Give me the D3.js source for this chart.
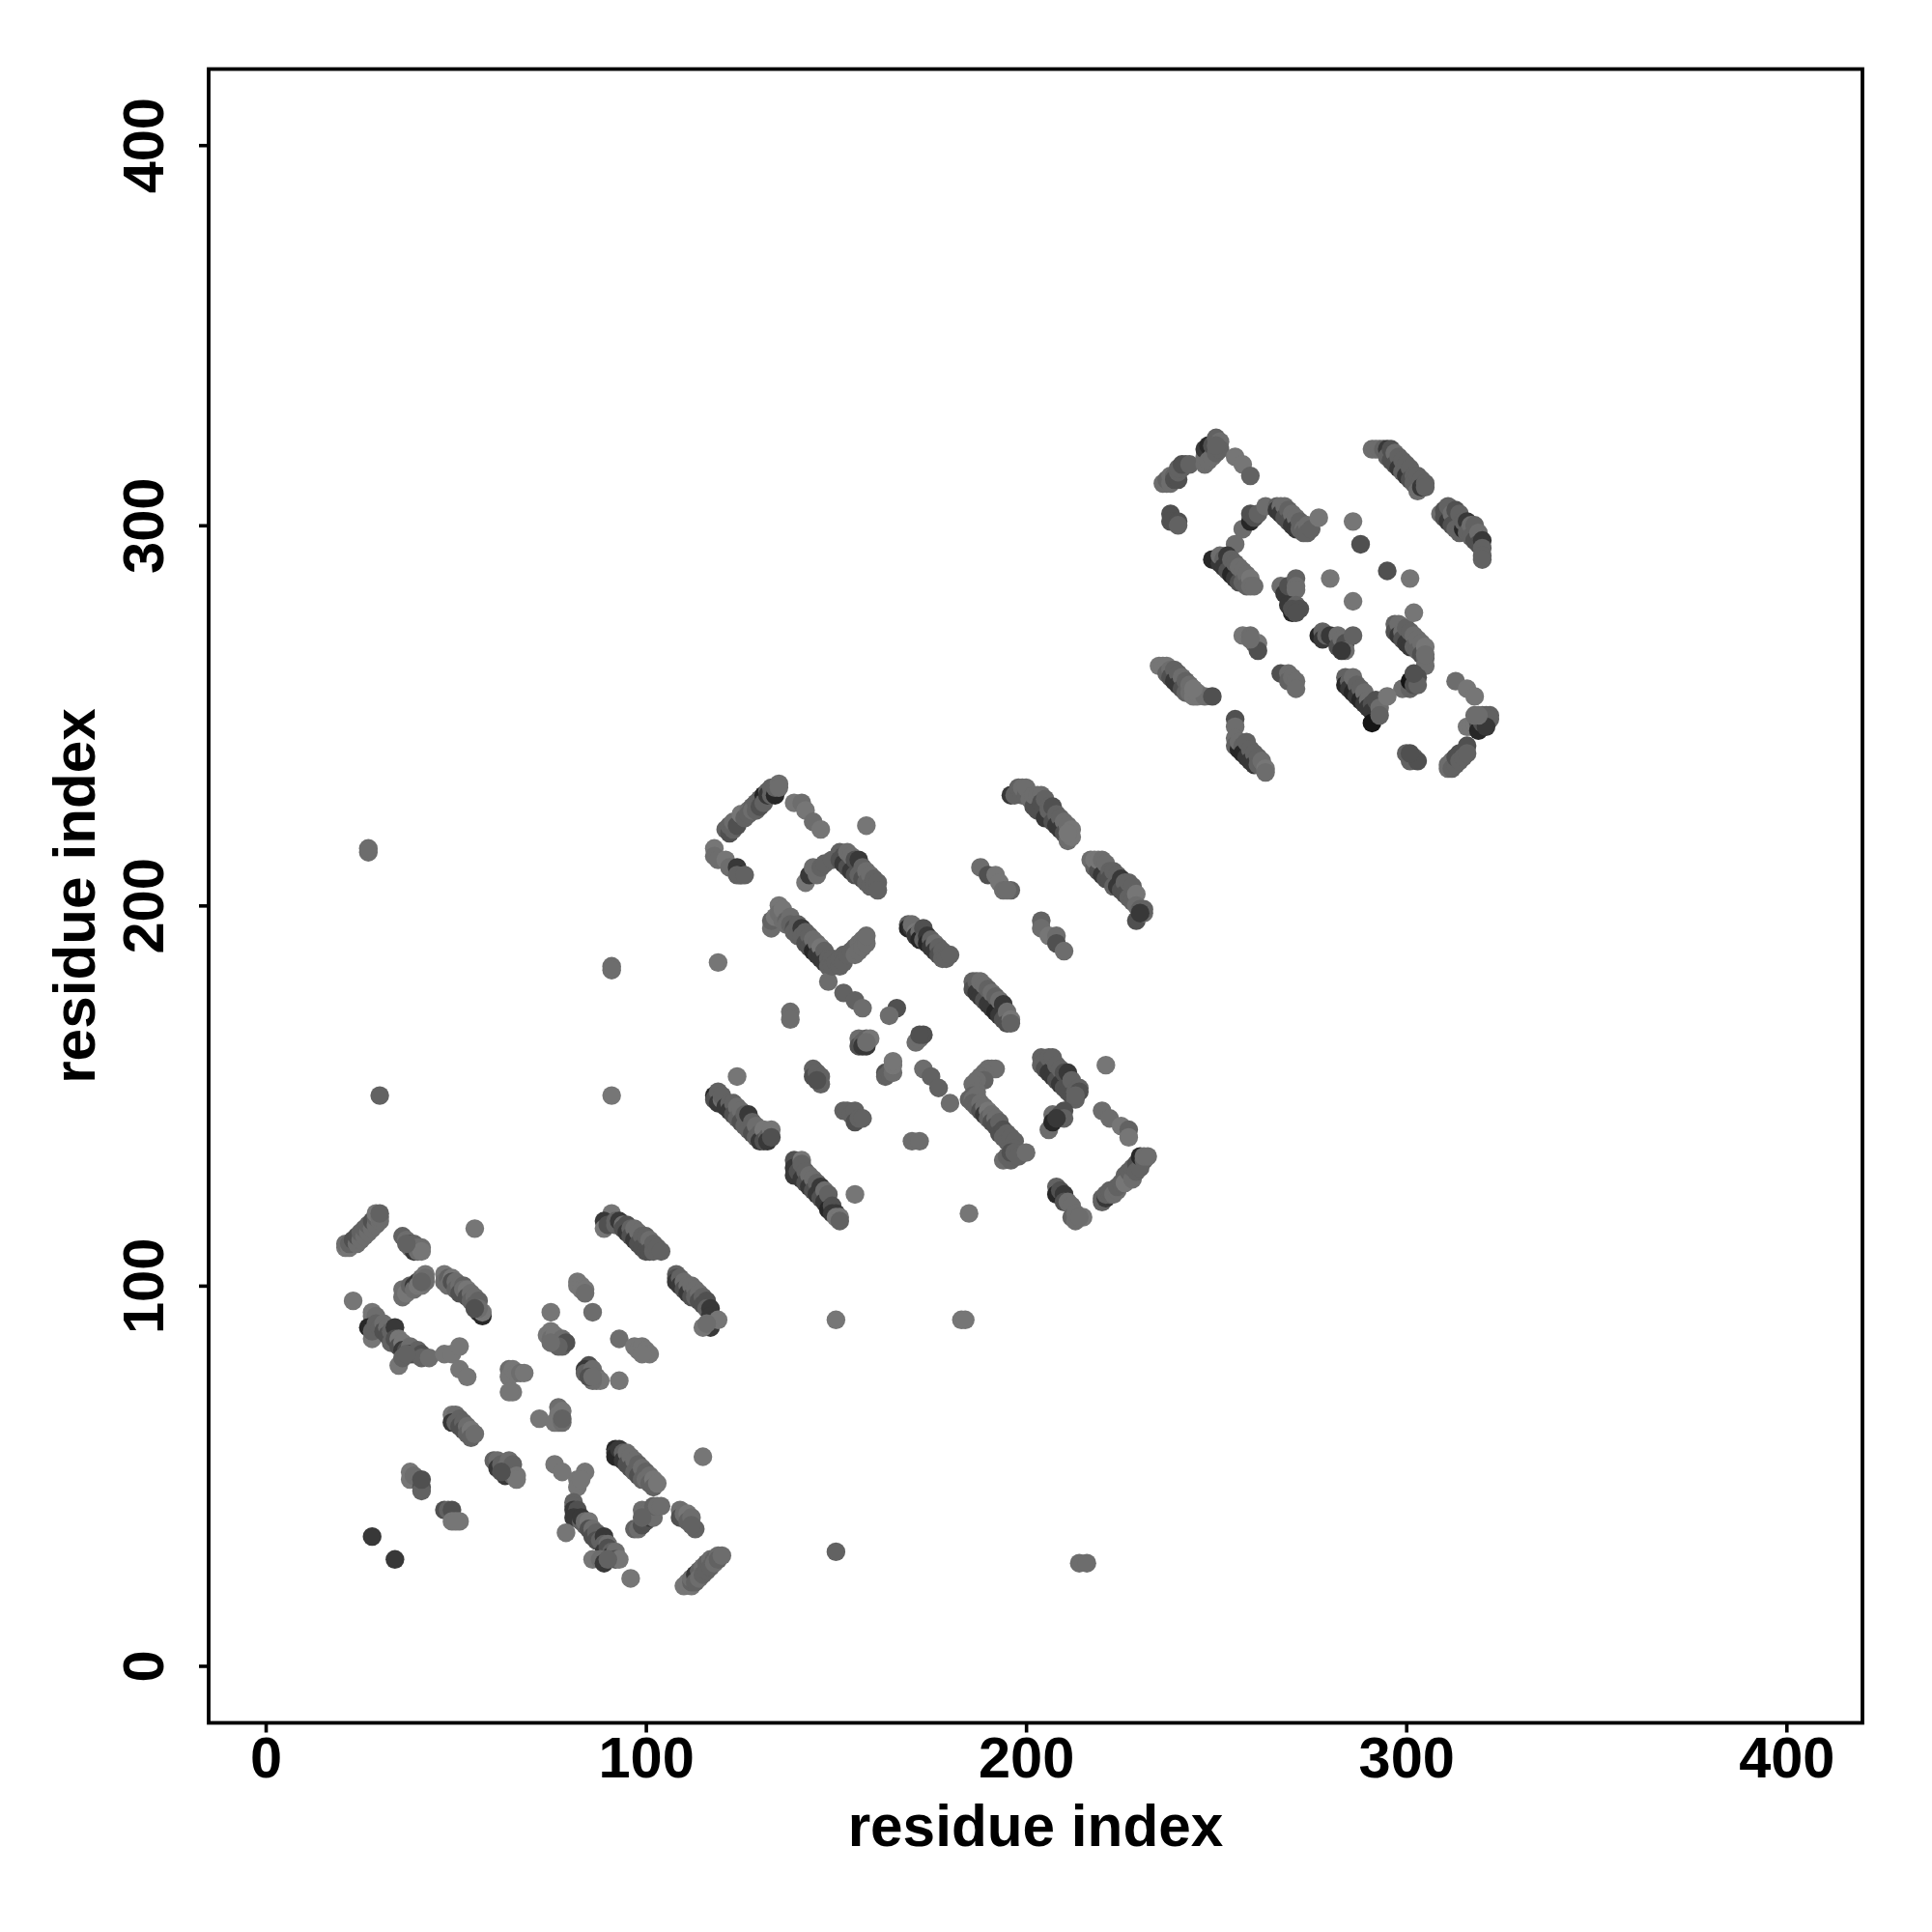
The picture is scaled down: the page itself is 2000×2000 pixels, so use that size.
<!DOCTYPE html>
<html><head><meta charset="utf-8">
<script src="https://cdn.jsdelivr.net/npm/d3@7"></script>
<style>html,body{margin:0;padding:0;background:#fff}svg{display:block}text{font-family:"Liberation Sans",Arial,sans-serif;font-weight:700;fill:#000}</style>
</head><body><div id="chart"></div>
<script>
const tickValues=[0,100,200,300,400];
const axisLabel="residue index";
const domainLimits=[-15,420];
// rows: residue x, residue y, contact strength level (1 weak .. 7 strong)
const contactsDomain1=[
[21,110,1],[21,111,2],[22,110,1],[22,111,3],[23,112,4],[24,111,2],[24,113,4],[25,112,2],[25,114,3],[26,113,2],[26,115,3],[27,114,2],[27,116,3],[28,115,2],[28,117,4],[29,116,2],[29,118,3],[30,117,2],[29,119,1],[30,118,2],[30,119,3],
[36,113,3],[37,112,2],[38,111,4],[38,110,1],[39,109,5],[39,111,3],[40,109,2],[40,110,2],[41,110,2],[41,109,1],[37,111,3],[55,115,1],
[36,97,2],[36,99,2],[37,98,1],[38,100,3],[39,100,5],[39,99,2],[40,101,5],[40,100,1],[41,102,2],[41,100,1],[42,103,1],[42,101,2],[42,102,2],[41,101,3],
[47,103,1],[47,101,2],[48,102,3],[48,100,2],[49,102,1],[49,101,4],[50,101,2],[50,99,3],[51,100,2],[51,98,4],[52,100,3],[52,99,2],[53,99,1],[53,97,4],[54,98,2],[54,96,3],[55,97,2],[55,95,3],[56,96,3],[56,93,5],[57,92,6],[57,93,1],[56,94,2],[55,94,4],[23,96,1],
[28,93,1],[28,92,1],[29,92,2],[27,89,6],[28,86,1],[28,88,3],[29,90,3],[30,89,3],[31,90,2],[31,88,4],[32,89,2],[32,87,4],[33,88,3],[33,85,3],[34,89,5],[34,86,4],[35,86,1],[35,84,4],[36,85,1],[36,83,5],[37,83,4],[38,84,2],[38,82,5],[39,82,4],[40,83,3],[41,82,4],[41,81,3],[43,81,2],[35,79,1],[36,81,3],[37,82,3],
[47,82,1],[49,82,1],[51,84,1],[51,78,1],[53,76,1],
[64,78,2],[64,76,1],[65,78,1],[66,77,1],[67,77,2],[68,77,1],[65,72,1],[64,72,1],
[75,93,1],[74,87,1],[75,88,1],[75,86,2],[76,86,3],[76,87,1],[77,85,5],[78,86,2],[78,84,3],[79,85,4],[77,84,3],[75,85,2],
[82,101,1],[82,100,1],[83,100,1],[83,99,1],[84,99,1],[84,98,2],[86,93,2],
[93,86,2],[97,84,1],[98,83,1],[99,84,1],[100,83,1],[101,82,1],[99,82,1],
[85,79,4],[84,78,5],[84,77,3],[85,77,3],[86,78,2],[87,76,2],[87,75,1],[88,75,1],[86,75,2],[85,76,4],[86,76,2],[93,75,1],
[49,66,1],[50,66,2],[49,64,5],[50,64,3],[51,65,3],[51,63,4],[52,64,3],[52,62,4],[53,63,2],[53,61,3],[54,62,1],[54,60,3],[55,61,2],
[72,65,1],[77,68,2],[77,66,1],[78,67,1],[77,64,2],[76,64,1],[78,64,2],[78,65,3],
[60,54,3],[61,54,2],[61,52,5],[62,53,3],[63,52,2],[63,50,5],[64,54,2],[64,51,4],[65,53,3],[65,50,3],[66,50,1],[66,49,1],[62,51,4],
[38,51,1],[38,49,1],[39,50,2],[41,47,4],[41,46,3],[41,49,4],
[47,41,4],[48,41,3],[49,41,4],[49,38,1],[51,38,1],[50,38,1],[28,34,5],[34,28,5],
[92,57,6],[92,56,5],[92,55,6],[93,57,5],[94,56,3],[94,54,5],[95,56,2],[95,53,4],[96,55,2],[96,52,4],[97,54,2],[97,51,3],[98,53,3],[98,50,4],[99,52,2],[99,49,3],[100,51,3],[100,49,2],[101,50,2],[101,48,3],[102,49,1],[102,47,3],[103,48,1],[115,55,1],
[76,53,1],[78,51,1],[84,51,1],[82,49,1],[82,47,1],[83,49,1],
[81,43,3],[81,42,3],[81,41,5],[82,40,4],[82,41,4],[81,39,5],[79,35,1],[83,38,3],[83,39,5],[84,37,3],[84,38,2],[85,38,1],[85,36,4],[86,36,2],[86,34,4],[87,35,3],[87,33,4],[88,33,3],[89,34,5],[89,32,3],[89,30,5],[90,32,2],[90,31,4],[91,30,3],[91,29,5],[92,30,2],[92,28,4],[93,28,1],[86,28,1],[88,28,2],[89,27,5],[90,28,3],[96,23,1],
[97,36,3],[98,36,2],[99,37,4],[99,41,2],[100,38,4],[100,40,2],[101,39,5],[101,41,2],[102,39,2],[102,42,3],[103,42,2],[104,42,2],[99,39,3],
[109,41,2],[109,39,4],[110,40,2],[111,40,1],[111,38,3],[112,39,2],[113,36,3],[112,37,3],
[110,21,1],[111,22,1],[112,21,1],[112,22,3],[112,23,2],[113,24,5],[113,22,3],[114,25,3],[114,23,2],[115,26,2],[115,24,3],[116,27,3],[116,25,3],[117,28,2],[117,26,3],[118,28,3],[118,27,2],[119,29,2],[119,28,3],[120,29,2],
[91,119,1],[89,117,5],[89,115,1],[90,116,4],[92,117,3],[92,116,3],[93,117,5],[94,116,2],[94,115,4],[95,116,4],[95,114,5],[96,115,3],[96,113,4],[97,115,2],[97,112,5],[98,114,2],[98,111,4],[99,113,3],[99,110,4],[100,113,3],[100,109,4],[101,112,2],[101,109,4],[102,111,3],[102,109,3],[103,110,3],[104,109,3],
[108,103,3],[108,102,4],[108,101,5],[109,102,3],[109,100,5],[110,101,2],[110,99,4],[111,100,2],[111,98,5],[112,100,2],[112,97,4],[113,99,2],[113,97,3],[114,98,2],[114,96,4],[115,97,3],[115,95,4],[116,96,4],[116,94,3],[117,94,5],[117,92,5],[117,89,5],[115,89,1],[118,91,5],[119,91,1],[116,90,2]
];
const contactsLongRange=[
[150,30,3],[214,27,2],[216,27,2],[30,150,3],[27,214,2],[27,215,2],[91,150,1],[91,184,2],[91,183,2],[150,91,1],[183,91,1],[184,91,1],[119,185,1],[185,119,1],[155,124,1],[158,221,1],[124,155,1],[221,158,1]
];
const contactsDomain2=[
[121,220,3],[122,219,4],[122,221,3],[123,220,3],[123,222,2],[124,221,4],[125,224,1],[126,223,3],[127,225,2],[127,224,3],[128,226,3],[128,225,2],[129,227,3],[129,225,3],[130,228,3],[130,226,4],[131,229,6],[131,227,3],[132,230,3],[132,229,5],[133,231,3],[133,229,3],[134,229,6],[134,231,3],[135,232,2],[135,231,2],
[139,227,1],[141,227,2],[142,225,1],[144,222,2],[146,220,1],
[118,215,1],[118,213,2],[119,212,2],[121,212,1],[122,210,2],[124,210,5],[125,208,6],[124,208,3],[126,208,3],
[142,206,1],[143,208,5],[144,210,2],[145,208,2],[146,210,3],[147,211,3],[149,212,3],[151,214,3],[151,212,4],[152,213,4],[152,211,5],[153,214,2],[153,210,4],[154,213,2],[154,209,5],[155,212,4],[155,208,4],[156,212,5],[156,208,3],[157,210,3],[157,207,4],[158,209,2],[158,206,3],[159,208,2],[159,205,3],[160,207,3],[160,205,3],[161,206,3],[161,204,3],
[133,194,2],[133,196,3],[134,197,1],[135,200,1],[135,198,2],[136,196,2],[136,199,1],[137,196,3],[137,195,2],[138,197,2],[138,195,3],[139,194,4],[139,193,3],[140,195,3],[140,192,3],[141,194,5],[141,192,3],[142,193,3],[142,190,4],[143,192,3],[143,189,4],[144,191,2],[144,188,6],[145,190,2],[145,187,5],[146,189,1],[146,186,5],[147,188,3],[147,185,5],[148,186,3],[148,184,3],[148,180,2],[149,186,3],[149,184,3],[150,185,3],[151,184,3],[151,186,3],[152,187,3],[152,185,3],[153,187,3],[154,188,3],[155,189,3],[155,187,2],[156,190,2],[156,188,2],[157,191,2],[157,189,2],[158,190,2],[158,192,2],
[169,195,3],[169,194,6],[170,194,5],[170,195,2],[171,193,1],[171,192,5],[172,193,2],[172,191,6],[173,194,4],[173,191,3],[174,192,5],[174,190,6],[175,191,3],[175,189,5],[176,190,2],[176,188,5],[177,189,3],[177,187,4],[178,188,3],[178,186,3],[179,187,3],[179,186,3],[180,187,3],
[186,180,3],[186,178,4],[187,180,3],[187,177,5],[188,180,2],[188,176,5],[189,179,2],[189,175,4],[190,178,3],[190,174,5],[191,177,2],[191,173,5],[192,176,3],[192,172,6],[193,175,2],[193,171,5],[194,174,5],[194,170,4],[195,172,2],[195,169,4],[196,170,1],[196,169,3],
[152,177,3],[155,175,3],[157,173,2],[166,173,4],[164,171,2],[138,172,2],[138,170,2],
[156,165,2],[156,163,4],[157,164,3],[157,163,5],[158,163,5],[158,165,3],[159,165,1],[158,164,2],
[171,164,2],[172,165,2],[173,166,4],[172,166,4],
[163,156,4],[163,155,3],[164,156,3],[165,156,2],[165,158,1],[165,159,1],
[144,157,3],[144,155,4],[145,156,3],[146,155,3],[146,153,3],[145,154,4],
[173,157,2],[175,155,3],[177,152,3],[180,148,2],
[190,157,2],[191,157,2],[192,157,2],[189,156,2],[188,155,2],[189,154,3],[187,154,2],[186,153,2],[187,151,2],[186,150,3],[185,149,3],[186,149,2],[187,150,2],[186,148,3],[187,147,3],[188,148,2],[188,146,4],[189,147,2],[189,145,5],[190,146,1],[190,144,3],[191,145,2],[191,143,4],[192,144,2],[192,142,4],[193,143,3],[193,140,4],[194,141,4],[194,139,3],[195,140,3],[195,138,3],[196,137,3],[196,139,3],[197,138,3],[197,136,3],[194,133,2],[195,134,3],[196,133,3],[196,135,4],[197,135,3],[198,134,3],[200,135,2],
[204,160,3],[204,158,3],[205,159,3],[205,157,4],[206,160,3],[206,156,5],[207,160,3],[207,155,5],[208,158,3],[208,154,4],[209,157,3],[209,153,5],[210,156,4],[210,152,4],[211,156,5],[211,151,4],[212,154,3],[212,150,4],[213,151,3],[213,149,3],[214,152,3],[214,151,4],[213,150,3],
[206,141,2],[207,145,2],[207,143,6],[209,145,4],[210,146,4],[210,144,3],[208,144,5],
[220,146,2],[222,144,2],[225,142,1],[227,141,3],[227,139,1],
[220,122,3],[220,123,3],[221,123,5],[221,124,3],[222,124,3],[222,125,3],[223,124,2],[224,125,2],[224,126,3],[225,127,3],[226,129,3],[226,127,1],[227,130,3],[228,128,2],[228,131,3],[229,132,4],[229,130,3],[230,131,3],[230,134,6],[231,133,3],[231,134,2],[232,134,2],
[208,126,3],[208,124,6],[209,125,4],[210,124,5],[210,122,4],[211,122,2],[212,121,2],[212,118,3],[213,117,2],[213,119,2],[215,118,1],[214,118,2],
[118,150,6],[118,149,4],[119,151,3],[119,148,5],[120,149,2],[120,150,3],[121,147,5],[122,148,3],[122,146,5],[123,148,3],[123,145,4],[124,147,2],[124,144,3],[125,146,2],[125,143,4],[126,145,3],[126,142,3],[127,145,5],[127,141,3],[128,143,3],[128,140,4],[129,142,2],[129,139,3],[130,140,3],[130,138,5],[131,141,1],[131,138,4],[132,139,3],[132,138,5],[133,141,1],[133,139,4],
[139,133,4],[139,131,5],[139,129,5],[140,130,4],[141,133,1],[141,132,3],[141,128,5],[142,130,3],[142,127,4],[143,129,2],[143,126,5],[144,128,2],[144,125,4],[145,127,3],[145,124,5],[146,126,5],[146,123,4],[147,125,2],[147,122,5],[148,124,3],[148,120,6],[149,121,4],[149,119,5],[150,119,5],[150,118,1],[151,118,1],[151,117,3],
[152,146,3],[153,146,3],[154,145,3],[155,146,3],[155,143,4],[156,144,3],[157,144,3],[170,138,2],[172,138,2],
[196,229,5],[197,229,3],[198,231,3],[199,229,3],[199,231,2],[200,229,3],[200,231,2],[201,228,2],[202,226,4],[202,229,2],[203,229,2],[203,225,4],[204,229,2],[204,227,4],[205,228,3],[205,223,5],[206,226,3],[206,225,3],[207,226,4],[207,222,4],[208,224,3],[208,221,5],[209,223,3],[209,220,5],[210,222,2],[210,219,4],[211,221,2],[211,217,2],[212,220,1],[212,218,1],[211,219,1],
[217,212,2],[218,210,3],[218,212,1],[219,209,4],[219,212,1],[220,212,2],[220,208,5],[221,211,2],[221,207,4],[222,209,3],[222,207,4],[223,209,3],[223,205,3],[224,208,3],[224,205,5],[225,207,5],[225,204,4],[226,206,3],[226,203,4],[227,206,3],[227,202,3],[228,205,3],[228,201,3],[229,203,1],[229,200,2],[229,196,4],[230,199,3],[231,198,2],[231,199,3],[230,198,5],
[188,210,2],[190,208,4],[192,208,1],[193,206,1],[194,204,2],[196,204,3],[195,204,2],
[204,196,3],[204,194,2],[206,192,1],[208,192,2],[208,190,4],[210,188,2]
];
const contactsDomain3=[
[236,311,2],[237,311,2],[237,312,3],[238,311,2],[238,313,2],[239,313,3],[239,312,4],[240,312,4],[240,314,3],[241,315,3],[240,315,3],[242,316,3],[241,316,4],[243,316,3],
[247,316,2],[247,318,2],[247,320,5],[248,321,6],[248,317,2],[249,318,2],[249,321,4],[250,319,3],[250,323,3],[251,322,2],[251,320,3],[250,321,3],
[255,318,1],[257,316,1],[259,313,3],[238,303,4],[238,301,4],[240,301,4],[240,300,3],
[257,299,2],[259,301,6],[259,303,4],[260,302,4],[261,303,3],[255,295,2],[263,305,2],[266,305,3],[266,304,5],[267,305,2],[267,303,5],[268,305,2],[268,302,4],[269,304,3],[269,301,4],[270,303,2],[270,300,5],[271,302,2],[271,299,5],[272,301,3],[272,299,3],[273,299,2],[273,298,3],[274,300,2],[274,298,3],[275,299,3],[277,302,1],
[249,291,6],[251,290,5],[251,292,2],[252,291,3],[252,289,5],[253,292,5],[253,288,4],[254,291,3],[254,287,6],[255,290,3],[255,286,5],[256,289,2],[256,285,4],[257,288,2],[257,285,3],[258,287,2],[258,284,3],[259,286,1],[259,284,2],[260,284,2],
[286,301,1],[288,295,4],[280,286,1],[286,280,1],[295,288,4],[301,286,1],
[267,284,2],[268,282,5],[269,284,4],[271,286,3],[271,284,2],[271,283,2],[269,279,5],[270,277,6],[271,279,3],[270,278,4],[272,278,4],[271,277,4],
[277,271,6],[278,272,3],[278,270,5],[279,271,3],[280,271,5],[282,271,2],[282,268,4],[283,270,2],[284,269,4],[284,267,2],[286,271,3],[283,267,5],
[257,271,1],[259,271,2],[260,269,3],[261,269,1],[261,267,4],[259,270,2],
[297,274,3],[297,272,4],[298,274,2],[298,271,5],[299,272,2],[299,270,4],[300,273,3],[300,269,5],[301,272,3],[301,268,5],[302,271,2],[302,268,3],[303,270,2],[303,267,3],[304,269,2],[304,266,4],[305,268,1],[305,265,3],[305,263,2],[302,277,1],[305,266,2],
[299,257,2],[301,257,3],[301,259,7],[302,258,4],[303,260,4],[303,258,3],[302,261,4],
[284,260,3],[284,258,6],[285,259,3],[285,257,5],[286,260,2],[286,256,6],[287,258,3],[287,255,5],[288,257,3],[288,254,6],[289,256,2],[289,253,5],[290,254,2],[290,252,5],[291,253,4],[291,251,5],[292,254,4],[292,250,5],[291,248,7],[293,252,2],[293,250,3],[295,255,1],
[313,259,2],[316,257,1],[318,255,1],[316,247,1],[317,247,1],[318,248,1],[319,248,4],[319,246,6],[320,250,3],[320,248,4],[321,250,3],[322,250,3],[322,249,3],[318,250,2],[321,247,5],[319,250,2],
[300,240,3],[301,238,3],[302,239,3],[303,238,4],[301,240,4],
[311,236,2],[311,237,2],[312,238,2],[312,236,3],[313,237,3],[313,239,4],[314,240,4],[314,238,3],[315,239,3],[316,242,4],[316,240,3],
[235,263,1],[236,263,1],[237,263,1],[237,261,3],[238,262,2],[238,260,4],[239,262,3],[239,259,5],[240,261,3],[240,258,5],[241,260,2],[241,257,4],[242,259,3],[242,256,3],[243,258,2],[243,256,2],[244,255,1],[245,255,1],[245,256,1],[247,255,2],[249,255,4],[244,257,1],
[255,249,4],[255,247,2],[255,244,2],[255,242,3],[256,241,6],[256,243,2],[257,242,3],[257,240,6],[258,243,3],[258,239,5],[259,241,3],[259,238,5],[260,240,3],[260,237,5],[261,239,3],[261,237,3],[262,238,2],[263,236,1],[263,235,2],
[267,261,4],[269,261,2],[269,259,3],[270,260,2],[271,259,2],[271,257,2],
[291,320,2],[292,320,2],[293,320,2],[294,320,3],[295,320,5],[295,318,3],[296,320,4],[296,317,4],[297,319,2],[297,316,4],[298,318,3],[298,315,5],[299,317,3],[299,314,3],[300,316,3],[300,313,5],[301,315,3],[301,312,4],[302,313,3],[302,311,3],[303,313,3],[303,309,2],[304,312,3],[304,310,5],[305,311,3],[305,310,3],
[309,303,2],[310,304,4],[310,302,4],[311,305,3],[311,301,5],[312,303,2],[312,300,4],[313,304,4],[313,299,3],[314,303,3],[314,298,3],[315,299,6],[315,301,3],[316,301,5],[316,298,3],[317,300,2],[317,297,3],[318,300,3],[318,296,4],[319,298,2],[319,295,4],[320,296,5],[320,294,3],[320,292,3],[320,291,3]
];
const W=2000,H=2000,L=216,R=1928,T=71.5,B=1783.5;
const fs=59.5;
const svg=d3.select('#chart').append('svg').attr('width',W).attr('height',H).attr('viewBox',`0 0 ${W} ${H}`);
svg.append('rect').attr('width',W).attr('height',H).attr('fill','#fff');
const x=d3.scaleLinear().domain(domainLimits).range([L,R]);
const y=d3.scaleLinear().domain(domainLimits).range([B,T]);
const grey=d3.scaleLinear().domain([1,2,3,4,5,6,7]).range(['#767676','#6d6d6d','#626262','#505050','#383838','#272727','#151515']);
const all=[...contactsDomain1,...contactsLongRange,...contactsDomain2,...contactsDomain3];
svg.append('g').selectAll('circle').data(all).join('circle')
 .attr('cx',d=>x(d[0])).attr('cy',d=>y(d[1])).attr('r',9.7).attr('fill',d=>grey(d[2]));
const ax=d3.axisBottom(x).tickValues(tickValues).tickSize(10).tickPadding(13).tickSizeOuter(0);
const ay=d3.axisLeft(y).tickValues(tickValues).tickSize(10).tickPadding(0).tickSizeOuter(0);
const gx=svg.append('g').attr('transform',`translate(0,${B})`).call(ax);
const gy=svg.append('g').attr('transform',`translate(${L},0)`).call(ay);
[gx,gy].forEach(g=>{g.select('.domain').remove();g.selectAll('.tick line').attr('stroke','#000').attr('stroke-width',3.6);});
gx.selectAll('.tick text').attr('y',null).attr('dy',null).attr('transform',null).each(function(){
  d3.select(this).attr('y',56).attr('font-size',fs).attr('text-anchor','middle');
});
gy.selectAll('.tick text').attr('x',null).attr('dy',null).each(function(){
  d3.select(this).attr('x',0).attr('y',0).attr('font-size',fs).attr('text-anchor','middle').attr('transform','translate(-47,0) rotate(-90)');
});
svg.append('rect').attr('x',L).attr('y',T).attr('width',R-L).attr('height',B-T).attr('fill','none').attr('stroke','#000').attr('stroke-width',3.8);
svg.append('text').attr('x',(L+R)/2).attr('y',1911).attr('text-anchor','middle').attr('font-size',60.3).text(axisLabel);
svg.append('text').attr('transform',`translate(98,${(T+B)/2}) rotate(-90)`).attr('text-anchor','middle').attr('font-size',60.3).text(axisLabel);
</script></body></html>
